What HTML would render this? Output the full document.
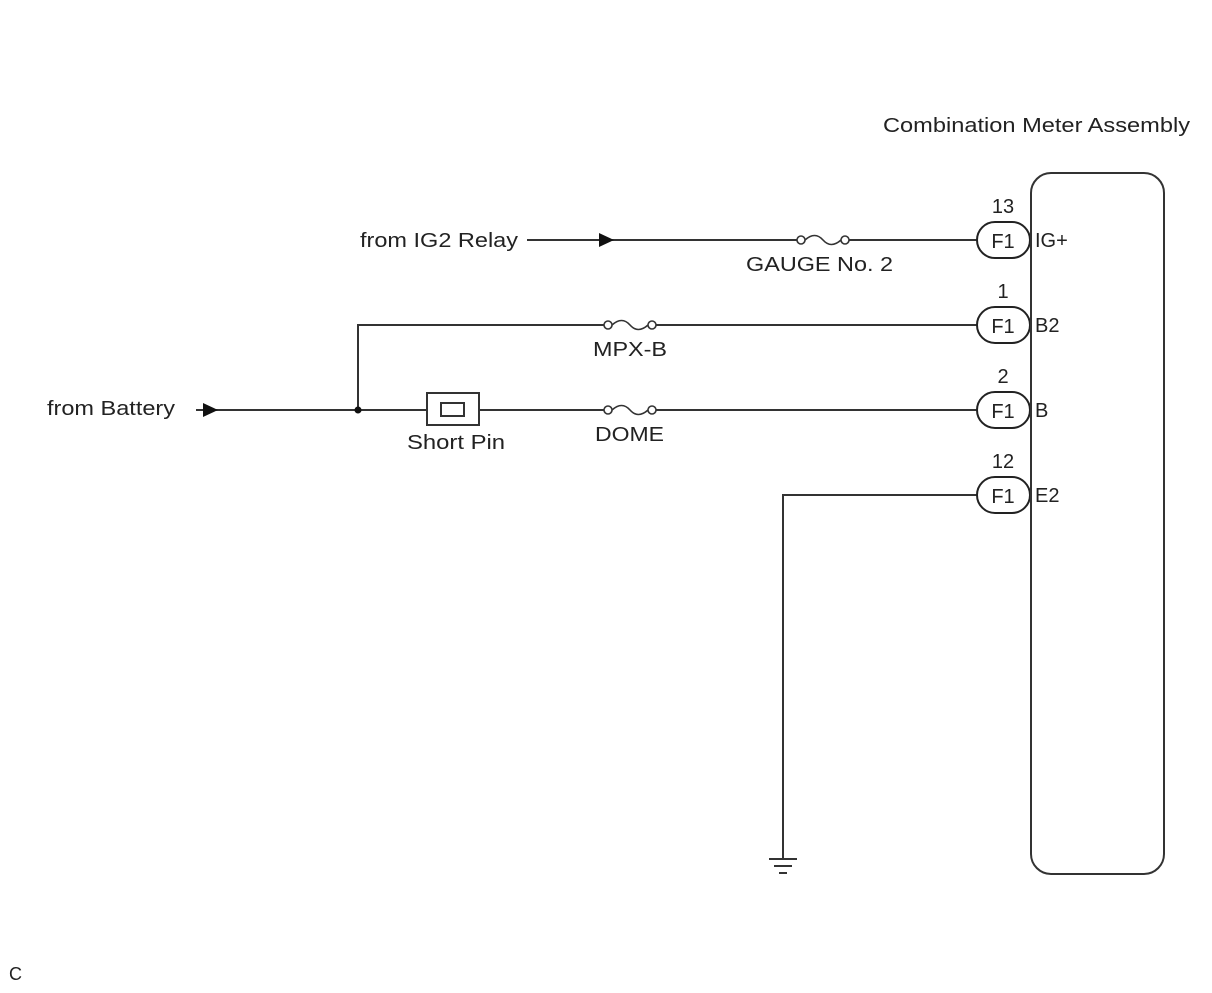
<!DOCTYPE html>
<html><head><style>
html,body{margin:0;padding:0;background:#fff;}
svg text{font-family:"Liberation Sans",Arial,sans-serif;fill:#222;}
</style></head><body>
<svg width="1212" height="988" viewBox="0 0 1212 988" xmlns="http://www.w3.org/2000/svg">
<g stroke="#333" stroke-width="2" fill="none">
<rect x="1031" y="173" width="133" height="701" rx="20" ry="20"/>
<line x1="527" y1="240" x2="797" y2="240"/>
<line x1="849" y1="240" x2="977" y2="240"/>
<polyline points="358,410 358,325 604,325"/>
<line x1="656" y1="325" x2="977" y2="325"/>
<line x1="196" y1="410" x2="427" y2="410"/>
<line x1="479" y1="410" x2="604" y2="410"/>
<line x1="656" y1="410" x2="977" y2="410"/>
<polyline points="977,495 783,495 783,859"/>
<line x1="769" y1="859" x2="797" y2="859"/>
<line x1="774" y1="866" x2="792" y2="866"/>
<line x1="779" y1="873" x2="787" y2="873"/>
<rect x="427" y="393" width="52" height="32"/>
<rect x="441" y="403" width="23" height="13"/>
</g>
<g stroke="#222" stroke-width="2" fill="#fff">
<rect x="977" y="222" width="53" height="36" rx="18"/>
<rect x="977" y="307" width="53" height="36" rx="18"/>
<rect x="977" y="392" width="53" height="36" rx="18"/>
<rect x="977" y="477" width="53" height="36" rx="18"/>
</g>
<line x1="1031" y1="200" x2="1031" y2="540" stroke="#333" stroke-width="2"/>
<g stroke="#333" stroke-width="1.6" fill="#fff">
<circle cx="801" cy="240" r="4"/><circle cx="845" cy="240" r="4"/>
<path d="M805,240 Q815,231 823,240 Q831,249 841,240" fill="none"/>
<circle cx="608" cy="325" r="4"/><circle cx="652" cy="325" r="4"/>
<path d="M612,325 Q622,316 630,325 Q638,334 648,325" fill="none"/>
<circle cx="608" cy="410" r="4"/><circle cx="652" cy="410" r="4"/>
<path d="M612,410 Q622,401 630,410 Q638,419 648,410" fill="none"/>
</g>
<polygon points="599,233 614,240 599,247" fill="#111"/>
<polygon points="203,403 218,410 203,417" fill="#111"/>
<circle cx="358" cy="410" r="3.5" fill="#111"/>
<g font-size="20">
<text x="883" y="132" textLength="307" lengthAdjust="spacingAndGlyphs">Combination Meter Assembly</text>
<text x="360" y="247" textLength="158" lengthAdjust="spacingAndGlyphs">from IG2 Relay</text>
<text x="47" y="415" textLength="128" lengthAdjust="spacingAndGlyphs">from Battery</text>
<text x="746" y="271" textLength="147" lengthAdjust="spacingAndGlyphs">GAUGE No. 2</text>
<text x="593" y="356" textLength="74" lengthAdjust="spacingAndGlyphs">MPX-B</text>
<text x="595" y="441" textLength="69" lengthAdjust="spacingAndGlyphs">DOME</text>
<text x="407" y="449" textLength="98" lengthAdjust="spacingAndGlyphs">Short Pin</text>
<text x="1003" y="213" text-anchor="middle">13</text>
<text x="1003" y="298" text-anchor="middle">1</text>
<text x="1003" y="383" text-anchor="middle">2</text>
<text x="1003" y="468" text-anchor="middle">12</text>
<text x="1003" y="248" text-anchor="middle">F1</text>
<text x="1003" y="333" text-anchor="middle">F1</text>
<text x="1003" y="418" text-anchor="middle">F1</text>
<text x="1003" y="503" text-anchor="middle">F1</text>
<text x="1035" y="247">IG+</text>
<text x="1035" y="332">B2</text>
<text x="1035" y="417">B</text>
<text x="1035" y="502">E2</text>
<text x="9" y="980" font-size="18">C</text>
</g>
</svg>
</body></html>
